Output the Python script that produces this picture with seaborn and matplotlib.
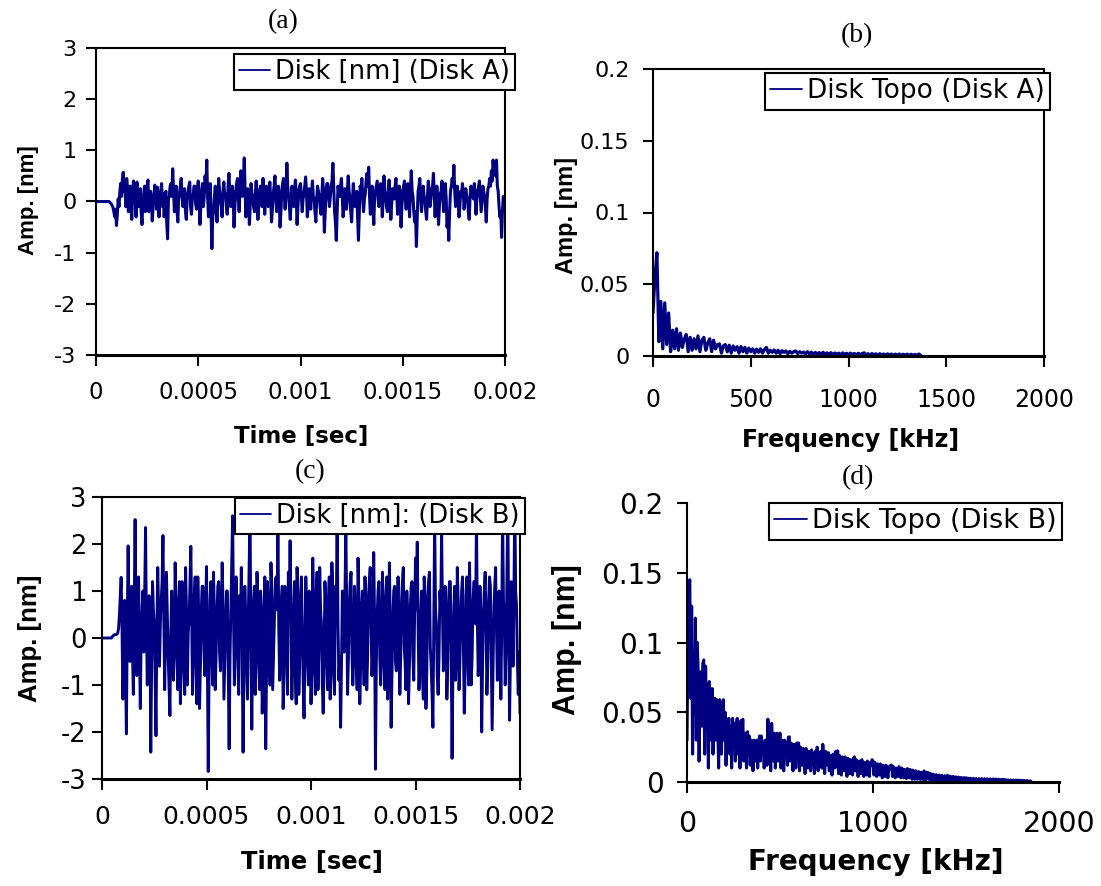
import numpy as np
import pandas as pd
import matplotlib
matplotlib.use("Agg")
import matplotlib.pyplot as plt
import seaborn as sns

# ---------------- data ----------------
# (a) Disk A time signal [nm], 0 .. 0.002 s, evenly sampled
amp_a = [
    0, 0, 0, 0, 0, 0, 0, 0, 0, 0, 0, 0, 0, 0, 0, 0, -0.01, -0.03, -0.05, -0.08,
    -0.12, -0.2, -0.3, -0.15, -0.47, -0.25, 0.05, -0.1, 0.2, 0.35, 0.1, 0.45, 0.57, 0.2, 0.3, -0.1, 0.45, 0.25, -0.2, 0.1,
    0.3, -0.1, -0.35, 0.2, 0.4, 0.1, 0.05, -0.3, 0.38, 0.2, -0.1, 0.15, 0.25, -0.2, -0.45, 0.1, 0.15, 0.3, -0.2, 0.05,
    0.3, 0.42, -0.2, -0.05, 0.2, 0.1, -0.38, -0.1, 0.1, 0.32, 0.2, -0.15, 0.28, 0.05, -0.3, 0.1, 0.2, 0.35, -0.1, 0.15,
    -0.3, 0.05, 0.2, -0.4, -0.73, 0.05, 0.1, 0.3, 0.35, 0.1, 0.64, 0.2, -0.2, 0.1, 0.3, -0.15, -0.4, 0.05, 0.15, 0.3,
    0.45, 0.1, -0.1, 0.2, 0.25, -0.2, -0.35, 0.05, 0.18, 0.3, 0.38, -0.1, -0.25, 0.05, 0.1, 0.3, 0.3, -0.05, -0.15, 0.2,
    0.4, 0.1, -0.45, -0.1, 0.2, 0.35, -0.1, 0.1, 0.5, 0.3, 0.81, 0.1, -0.3, 0.1, 0.35, -0.2, -0.92, -0.3, -0.2, 0.1,
    0.3, -0.1, -0.4, 0.05, 0.45, 0.2, 0.05, -0.1, -0.3, 0.2, 0.38, 0.1, 0.15, -0.1, -0.25, 0.3, 0.55, 0.2, -0.1, 0.1,
    0.3, 0.05, -0.5, -0.1, 0.2, 0.35, 0.45, 0.1, -0.2, 0.2, 0.6, 0.3, 0.1, 0.4, 0.85, 0.2, -0.3, 0.05, 0.25, 0.1,
    -0.45, -0.1, 0.35, 0.15, 0.1, -0.1, -0.2, 0.15, 0.4, 0.1, -0.35, -0.05, 0.2, 0.3, 0.05, -0.1, 0.45, 0.2, -0.25, 0.05,
    0.3, 0.1, -0.1, 0.2, 0.38, 0.05, -0.4, -0.15, 0.15, 0.3, 0.5, 0.1, -0.2, 0.05, 0.3, 0.1, -0.5, -0.2, 0.2, 0.35,
    0.45, 0.1, -0.15, 0.2, 0.75, 0.3, 0.1, -0.1, -0.35, 0.05, 0.3, 0.15, -0.1, 0.2, 0.42, 0.1, -0.45, -0.1, 0.2, 0.3,
    0.35, 0.1, -0.2, 0.05, 0.15, 0.3, 0.48, 0.2, -0.3, -0.1, 0.25, 0.1, -0.15, 0.2, 0.4, 0.1, 0.05, -0.2, -0.4, 0.05,
    0.3, 0.2, 0.1, -0.1, -0.25, 0.1, 0.45, 0.2, -0.6, -0.2, 0.2, 0.35, 0.35, 0.1, -0.1, 0.1, 0.3, 0.4, 0.75, 0.3,
    -0.2, -0.4, -0.76, -0.2, 0.3, 0.2, 0.1, 0.3, 0.45, 0.1, -0.3, -0.1, 0.25, 0.1, -0.15, 0.2, 0.5, 0.2, 0.05, -0.2,
    -0.4, 0.05, 0.35, 0.1, -0.1, 0.1, 0.2, -0.3, -0.76, -0.2, 0.3, 0.2, 0.45, 0.1, -0.2, 0.05, 0.15, 0.4, 0.55, 0.3,
    0.67, 0.1, -0.25, 0.05, 0.3, -0.1, -0.45, 0.1, 0.2, 0.3, 0.4, 0.05, -0.1, 0.2, 0.35, 0.1, -0.3, 0.05, 0.5, 0.2,
    0.1, -0.1, -0.2, 0.2, 0.42, 0.1, -0.35, -0.05, 0.25, 0.1, 0.05, 0.3, 0.45, 0.1, -0.25, 0.05, 0.3, 0.1, -0.5, -0.1,
    0.2, 0.3, 0.4, 0.05, -0.15, 0.1, 0.35, 0.1, -0.3, 0.2, 0.6, 0.2, 0.1, -0.2, -0.4, -0.2, -0.88, -0.3, 0.2, 0.3,
    0.45, 0.1, -0.2, 0.05, 0.3, 0.1, 0.05, -0.2, -0.35, 0.1, 0.4, 0.2, -0.1, 0.05, 0.25, 0.3, 0.55, 0.1, -0.3, 0.05,
    0.3, 0.1, -0.45, -0.1, 0.15, 0.2, 0.4, 0.1, -0.2, 0.1, 0.35, 0.05, -0.5, -0.3, -0.76, -0.2, 0.2, 0.3, 0.45, 0.3,
    0.71, 0.2, -0.1, 0.1, 0.3, 0.05, -0.3, -0.1, 0.2, 0.1, 0.35, 0.2, -0.15, 0.05, 0.25, 0.1, 0.05, -0.2, -0.35, 0.1,
    0.3, 0.2, 0.1, 0.05, 0.35, 0.1, -0.25, 0.05, 0.2, 0.3, 0.4, 0.1, -0.2, 0.05, 0.3, 0.2, 0.1, -0.1, -0.4, 0.05,
    0.25, 0.3, 0.45, 0.3, 0.6, 0.4, 0.81, 0.6, 0.7, 0.5, 0.81, 0.3, 0.2, -0.1, -0.3, -0.2, -0.7, -0.2, 0.1, 0.05,
    -0.1,
]

# (c) Disk B time signal [nm], 0 .. 0.002 s, evenly sampled
amp_c = [
    0, 0, 0, 0, 0, 0, 0, 0, 0, 0, 0, 0, 0.03, 0.05, 0.07, 0.07, 0.07, 0.08, 0.1, 0.2,
    0.5, 0.9, 1.29, 0.2, -1.3, -0.4, 0.8, -0.6, -2.04, 0.3, 1.96, 0.5, -0.5, 0.7, 1.1, -0.3, -1.2, 0.6, 2.52, 0.4,
    -0.8, 0.5, 1.3, -0.2, -1.5, 0.1, 0.6, 1.0, -0.3, 0.9, 2.35, 0.3, -1.0, -0.2, 0.9, 0.4, -2.43, -0.5, 1.2, 0.6,
    0.3, -0.8, -2.08, 0.2, 1.5, 0.6, -0.6, 0.3, 0.8, 1.2, 2.18, 0.4, -1.1, 0.2, 1.4, 0.5, -0.4, -1.0, -1.65, 0.1,
    1.0, 0.3, -0.9, -0.3, 1.6, 0.7, -0.2, -1.1, 0.7, 1.2, -1.4, -0.5, 1.2, 0.4, -0.6, -1.2, 1.5, 0.6, -1.0, 0.1,
    0.4, 1.1, 1.95, 0.3, -1.2, -0.4, 0.9, 1.3, -0.5, -1.4, 1.3, 0.5, -1.5, -0.6, 0.6, 1.1, 1.1, -0.2, -0.8, 0.5,
    1.52, -0.5, -2.84, -0.6, 0.8, 1.2, -0.3, -1.0, 1.4, 0.6, -1.1, -0.4, 0.5, 1.1, 1.2, -0.3, -0.7, 0.4, 1.6, 0.7,
    -1.3, -0.5, 0.3, 1.0, 1.0, -0.6, -2.36, -0.4, 0.6, 1.5, 2.6, 0.5, -1.0, 0.2, 1.3, 0.6, -0.5, -1.2, 0.9, 0.3,
    1.5, -0.4, -2.43, -0.5, 1.1, 0.5, -0.6, -1.3, 0.4, 1.6, 2.7, -0.2, -1.94, -0.3, 0.8, 1.1, -1.2, -0.5, 1.4, 0.7,
    -0.3, -1.1, 1.0, 0.4, -1.6, -0.7, 0.7, 1.3, -2.36, -0.6, 1.2, 0.5, -0.4, -1.0, 1.6, 0.9, -1.1, -0.3, 0.5, 1.2,
    1.3, 0.6, 2.5, 0.2, -0.9, -0.4, 0.8, 1.1, -1.5, -0.7, 1.1, 0.3, -0.2, -1.2, 1.4, 0.5, 2.07, 0.4, -1.3, -0.5,
    0.6, 1.2, -0.8, -1.4, 1.5, 0.7, -1.2, -0.5, 0.9, 1.3, 0.2, -0.9, -1.7, -0.3, 1.3, 0.6, -0.5, -1.0, 1.0, 0.4,
    -1.4, -0.6, 1.7, 0.8, -0.6, -1.2, 0.9, 1.4, -1.1, -0.3, 1.5, 0.6, 0.3, -1.0, -1.6, -0.5, 1.2, 0.7, -0.4, -1.1,
    0.8, 1.3, -1.3, -0.6, 1.6, 0.9, -0.7, -1.2, 1.1, 0.5, 2.6, 0.3, -0.9, -0.4, -1.9, -0.6, 1.0, 0.6, -0.3, 0.9,
    2.4, 0.5, -1.2, -0.4, 0.7, 1.2, 1.4, -0.3, -1.0, -0.5, 1.1, 0.4, -0.5, -1.1, 1.7, 0.8, -1.4, -0.6, 0.6, 1.0,
    -0.2, -1.0, 1.3, 0.5, -1.1, -0.4, 0.9, 1.2, 1.5, 0.2, -0.8, -0.3, 1.82, 0.4, -2.79, -0.6, 0.5, 1.0, 1.2, -0.4,
    -1.0, -0.3, 1.4, 0.6, -0.6, -1.1, 0.9, 1.3, -1.3, -0.5, 1.6, 0.4, -1.9, -0.7, 0.4, 1.0, 1.1, -0.5, -0.7, 0.6,
    1.3, 0.3, -1.2, -0.4, 0.8, 1.2, 1.5, -0.2, -0.5, -1.1, 1.0, 0.5, -1.4, -0.6, 0.6, 1.1, 1.2, -0.4, -0.9, 0.5,
    1.7, 0.6, 2.04, 0.2, -1.1, -0.5, 0.5, 1.0, -0.8, -1.3, 1.3, 0.6, -1.5, -0.7, 0.9, 1.2, 1.4, -0.2, -0.6, -1.2,
    -1.9, 0.3, 2.5, 0.6, 0.3, -0.8, -1.2, -0.4, 1.0, 0.6, 2.3, 0.5, -0.7, -0.2, 1.1, 0.5, -1.3, -0.6, 0.8, 1.2,
    1.2, -0.4, -2.56, -0.6, 0.6, 1.1, -0.9, -0.3, 1.5, 0.8, -1.1, -0.5, 0.4, 1.0, 1.3, -0.2, -1.6, -0.7, 0.9, 1.3,
    -0.3, -1.0, 1.6, 0.6, -1.0, -0.4, 0.7, 1.2, 1.2, 0.3, 2.6, 0.4, -0.8, -0.2, 1.1, 0.5, -2.0, -0.6, 0.5, 1.0,
    1.4, 0.3, -1.2, -0.5, 0.8, 1.3, 1.1, -0.4, -1.95, -0.6, 0.6, 1.1, 1.5, 0.2, -0.9, -0.3, 1.0, 0.6, -1.3, 0.2,
    2.7, 0.8, 0.4, -1.0, -0.3, 1.4, 2.9, 0.3, -1.75, -0.4, 1.2, 0.6, -0.6, 0.8, 3.0, 1.0, 0.7, -0.5, -1.2, -0.3,
    -1.6,
]

# (b) Disk A spectrum [nm], 10 kHz bins starting at 0 kHz
spec_b = [
    0.03, 0.055, 0.072, 0.01, 0.038, 0.005, 0.037, 0.008, 0.03, 0.003, 0.018, 0.005, 0.019, 0.004, 0.016, 0.006, 0.012, 0.015, 0.003, 0.013,
    0.004, 0.012, 0.005, 0.014, 0.003, 0.011, 0.013, 0.004, 0.009, 0.012, 0.003, 0.011, 0.005, 0.008, 0.0084, 0.002, 0.007, 0.008, 0.003, 0.0075,
    0.002, 0.007, 0.004, 0.0065, 0.002, 0.0066, 0.003, 0.006, 0.002, 0.0055, 0.003, 0.005, 0.002, 0.0048, 0.0025, 0.005, 0.002, 0.0045, 0.006, 0.002,
    0.004, 0.0025, 0.0042, 0.002, 0.004, 0.0015, 0.0037, 0.0025, 0.0035, 0.0015, 0.0033, 0.002, 0.003, 0.0035, 0.0015, 0.003, 0.002, 0.0028, 0.0012, 0.003,
    0.0015, 0.0027, 0.001, 0.0025, 0.0015, 0.0024, 0.001, 0.0026, 0.0012, 0.0022, 0.001, 0.0023, 0.0009, 0.0021, 0.0012, 0.002, 0.0008, 0.0022, 0.001, 0.0019,
    0.0008, 0.002, 0.001, 0.0018, 0.0007, 0.0019, 0.0009, 0.0017, 0.0022, 0.0008, 0.0016, 0.0007, 0.0017, 0.0009, 0.0015, 0.0006, 0.0016, 0.0008, 0.0014, 0.0006,
    0.0015, 0.0007, 0.0014, 0.0005, 0.0013, 0.0006, 0.0014, 0.0005, 0.0012, 0.0006, 0.0013, 0.0004, 0.0012, 0.0005, 0.0011, 0.0004, 0.0014, 0.0003,
]

# (d) Disk B spectrum [nm], 5 kHz bins starting at 0 kHz
spec_d = [
    0.03, 0.1, 0.14, 0.145, 0.06, 0.126, 0.02, 0.09, 0.05, 0.1175, 0.03, 0.1, 0.08, 0.015, 0.06, 0.079, 0.04, 0.085, 0.0875, 0.02,
    0.083, 0.04, 0.07, 0.01, 0.072, 0.05, 0.03, 0.067, 0.02, 0.05, 0.06, 0.03, 0.059, 0.045, 0.01, 0.059, 0.04, 0.02, 0.05, 0.059,
    0.03, 0.05, 0.012, 0.045, 0.035, 0.0456, 0.02, 0.04, 0.01, 0.0456, 0.03, 0.042, 0.015, 0.04, 0.0456, 0.02, 0.038, 0.01, 0.044, 0.03,
    0.045, 0.015, 0.035, 0.03, 0.01, 0.036, 0.025, 0.033, 0.012, 0.03, 0.028, 0.008, 0.03, 0.025, 0.015, 0.03, 0.01, 0.028, 0.033, 0.015,
    0.033, 0.02, 0.028, 0.01, 0.03, 0.025, 0.012, 0.045, 0.02, 0.03, 0.008, 0.042, 0.028, 0.015, 0.035, 0.01, 0.03, 0.035, 0.015, 0.028,
    0.035, 0.01, 0.03, 0.025, 0.008, 0.03, 0.02, 0.028, 0.012, 0.032, 0.0324, 0.015, 0.028, 0.02, 0.008, 0.027, 0.022, 0.01, 0.028, 0.018,
    0.028, 0.008, 0.025, 0.02, 0.012, 0.024, 0.018, 0.006, 0.024, 0.02, 0.01, 0.022, 0.018, 0.008, 0.023, 0.015, 0.02, 0.006, 0.022, 0.018,
    0.025, 0.008, 0.02, 0.015, 0.022, 0.01, 0.027, 0.018, 0.006, 0.022, 0.02, 0.012, 0.021, 0.008, 0.019, 0.015, 0.005, 0.02, 0.018, 0.01,
    0.022, 0.012, 0.0223, 0.006, 0.019, 0.015, 0.005, 0.018, 0.014, 0.008, 0.018, 0.012, 0.004, 0.017, 0.015, 0.006, 0.016, 0.012, 0.005, 0.017,
    0.018, 0.008, 0.016, 0.012, 0.004, 0.015, 0.013, 0.006, 0.016, 0.01, 0.004, 0.014, 0.012, 0.005, 0.015, 0.011, 0.004, 0.014, 0.012, 0.016,
    0.015, 0.005, 0.014, 0.01, 0.004, 0.013, 0.011, 0.005, 0.013, 0.009, 0.003, 0.012, 0.01, 0.004, 0.012, 0.009, 0.003, 0.011, 0.009, 0.012,
    0.012, 0.004, 0.011, 0.008, 0.003, 0.01, 0.009, 0.004, 0.011, 0.007, 0.003, 0.01, 0.008, 0.003, 0.009, 0.007, 0.0025, 0.0096, 0.008, 0.003,
    0.009, 0.006, 0.002, 0.0085, 0.006, 0.002, 0.008, 0.006, 0.002, 0.0075, 0.005, 0.0018, 0.007, 0.005, 0.0015, 0.0079, 0.006, 0.0015, 0.007, 0.005,
    0.0065, 0.0015, 0.006, 0.0045, 0.0012, 0.0055, 0.004, 0.001, 0.0052, 0.0035, 0.001, 0.005, 0.0035, 0.001, 0.0048, 0.003, 0.0009, 0.0045, 0.003, 0.0008,
    0.0048, 0.003, 0.0008, 0.0042, 0.0028, 0.0007, 0.004, 0.0025, 0.0007, 0.0037, 0.0024, 0.0006, 0.0035, 0.0022, 0.0006, 0.0033, 0.002, 0.0005, 0.0031, 0.002,
    0.003, 0.0005, 0.0028, 0.0018, 0.0005, 0.0027, 0.0017, 0.0004, 0.0026, 0.0016, 0.0004, 0.0025, 0.0015, 0.0004, 0.0024, 0.0015, 0.0003, 0.0024, 0.0014, 0.0003,
    0.0024, 0.0014, 0.0003, 0.0023, 0.0013, 0.0003, 0.0022, 0.0013, 0.0003, 0.0022, 0.0012, 0.0003, 0.0021, 0.0012, 0.0003, 0.002, 0.0011, 0.0003, 0.0019, 0.001,
    0.0018, 0.0003, 0.0017, 0.001, 0.0002, 0.0016, 0.0009, 0.0002, 0.0015, 0.0009, 0.0002, 0.0014, 0.0008, 0.0002, 0.0014, 0.0008, 0.0002, 0.0013, 0.0007, 0.0002,
    0.0012, 0.0007, 0.0002, 0.0011, 0.0006, 0.0002, 0.0010, 0.0005, 0.0002, 0.0008, 0.0004,
]

time_end = 0.002
freq_step_b = 10.0
freq_step_d = 5.0

time_ticks = [0, 0.0005, 0.001, 0.0015, 0.002]
time_labels = ["0", "0.0005", "0.001", "0.0015", "0.002"]
amp_ticks = [-3, -2, -1, 0, 1, 2, 3]
amp_labels = ["-3", "-2", "-1", "0", "1", "2", "3"]
spec_ticks = [0, 0.05, 0.1, 0.15, 0.2]
spec_labels = ["0", "0.05", "0.1", "0.15", "0.2"]
freq_ticks_b = [0, 500, 1000, 1500, 2000]
freq_ticks_d = [0, 1000, 2000]

# ---------------- figure ----------------
sns.set_theme(style="white")
plt.rcParams["font.family"] = ["DejaVu Sans"]
plt.rcParams["axes.unicode_minus"] = False
plt.rcParams["text.color"] = "black"
plt.rcParams["axes.labelcolor"] = "black"
plt.rcParams["xtick.color"] = "black"
plt.rcParams["ytick.color"] = "black"

W, H = 1101, 886
fig = plt.figure(figsize=(W / 100, H / 100), dpi=100)
fig.patch.set_facecolor("white")

NAVY = "#000080"


def px_axes(l, t, r, b):
    return fig.add_axes([l / W, 1 - b / H, (r - l) / W, (b - t) / H])


ax_a = px_axes(96, 48, 505, 355)
ax_b = px_axes(653, 69, 1044, 356)
ax_c = px_axes(102, 497, 520, 779)
ax_d = px_axes(687, 503, 1059, 782)

df_a = pd.DataFrame({"t": np.linspace(0, time_end, len(amp_a)), "v": amp_a})
df_c = pd.DataFrame({"t": np.linspace(0, time_end, len(amp_c)), "v": amp_c})
df_b = pd.DataFrame({"f": np.arange(len(spec_b)) * freq_step_b, "v": spec_b})
df_d = pd.DataFrame({"f": np.arange(len(spec_d)) * freq_step_d, "v": spec_d})

sns.lineplot(data=df_a, x="t", y="v", ax=ax_a, color=NAVY, linewidth=2.2,
             label="Disk [nm] (Disk A)", errorbar=None)
sns.lineplot(data=df_b, x="f", y="v", ax=ax_b, color=NAVY, linewidth=2.3,
             label="Disk Topo (Disk A)", errorbar=None)
sns.lineplot(data=df_c, x="t", y="v", ax=ax_c, color=NAVY, linewidth=2.1,
             label="Disk [nm]: (Disk B)", errorbar=None)
sns.lineplot(data=df_d, x="f", y="v", ax=ax_d, color=NAVY, linewidth=2.2,
             label="Disk Topo (Disk B)", errorbar=None)


def style(ax, xlim, ylim, xt, xtl, yt, ytl, xfs, yfs, xpad, ypad, full_box):
    ax.set_xlim(*xlim)
    ax.set_ylim(*ylim)
    ax.set_xticks(xt)
    ax.set_xticklabels(xtl)
    ax.set_yticks(yt)
    ax.set_yticklabels(ytl)
    ax.tick_params(axis="x", direction="out", length=8, width=1.5, color="black",
                   labelsize=xfs, pad=xpad, bottom=True, top=False, labelcolor="black")
    ax.tick_params(axis="y", direction="out", length=7, width=1.5, color="black",
                   labelsize=yfs, pad=ypad, left=True, right=False, labelcolor="black")
    for s in ["left", "bottom", "top", "right"]:
        ax.spines[s].set_color("black")
        ax.spines[s].set_linewidth(1.5)
    ax.spines["bottom"].set_linewidth(2.2)
    if not full_box:
        ax.spines["top"].set_visible(False)
        ax.spines["right"].set_visible(False)
    ax.set_facecolor("white")
    ax.grid(False)


style(ax_a, (0, time_end), (-3, 3), time_ticks, time_labels, amp_ticks, amp_labels,
      16.5, 16, 11, 7, True)
style(ax_b, (0, 2000), (0, 0.2), freq_ticks_b, [str(v) for v in freq_ticks_b],
      spec_ticks, spec_labels, 17, 16, 15, 10, True)
style(ax_c, (0, time_end), (-3, 3), time_ticks, time_labels, amp_ticks, amp_labels,
      18, 18.5, 11, 4, True)
style(ax_d, (0, 2000), (0, 0.2), freq_ticks_d, [str(v) for v in freq_ticks_d],
      spec_ticks, spec_labels, 20.5, 20, 12, 10, False)


def labels(ax, xl, yl, xfs, yfs, xc, yc):
    ax.set_xlabel(xl, fontsize=xfs, fontweight="bold", family=["DejaVu Sans"], color="black")
    ax.set_ylabel(yl, fontsize=yfs, fontweight="bold", family=["Liberation Sans", "DejaVu Sans"], color="black")
    ax.xaxis.label.set_va("center")
    ax.yaxis.label.set_va("center")
    ax.xaxis.set_label_coords(*xc)
    ax.yaxis.set_label_coords(*yc)


labels(ax_a, "Time [sec]", "Amp. [nm]", 16.5, 16, (0.501, -0.267), (-0.166, 0.505))
labels(ax_b, "Frequency [kHz]", "Amp. [nm]", 17, 17, (0.504, -0.293), (-0.22, 0.491))
labels(ax_c, "Time [sec]", "Amp. [nm]", 17.5, 18.5, (0.502, -0.294), (-0.172, 0.5))
labels(ax_d, "Frequency [kHz]", "Amp. [nm]", 20, 22, (0.508, -0.287), (-0.323, 0.509))

for ax, tag, pos in [(ax_a, "(a)", (0.457, 1.085)), (ax_b, "(b)", (0.522, 1.118)),
                     (ax_c, "(c)", (0.498, 1.089)), (ax_d, "(d)", (0.46, 1.09))]:
    ax.text(pos[0], pos[1], tag, transform=ax.transAxes, ha="center", va="center",
            fontsize=20, family=["Liberation Serif", "DejaVu Serif"], color="black")

for ax, anchor, fs in [(ax_a, (1.024, 0.980), 18.5), (ax_b, (1.015, 0.986), 19),
                       (ax_c, (1.012, 0.996), 18.5), (ax_d, (1.008, 1.0), 19.5)]:
    leg = ax.legend(loc="upper right", bbox_to_anchor=anchor, fontsize=fs,
                    frameon=True, fancybox=False, shadow=False, framealpha=1,
                    edgecolor="black", borderpad=0.2, handlelength=1.2,
                    handletextpad=0.2, borderaxespad=0)
    leg.get_frame().set_linewidth(1.5)
    for text in leg.get_texts():
        text.set_color("black")
    for line in leg.get_lines():
        line.set_linewidth(1.3)

fig.savefig("out.png", dpi=100, facecolor="white")
